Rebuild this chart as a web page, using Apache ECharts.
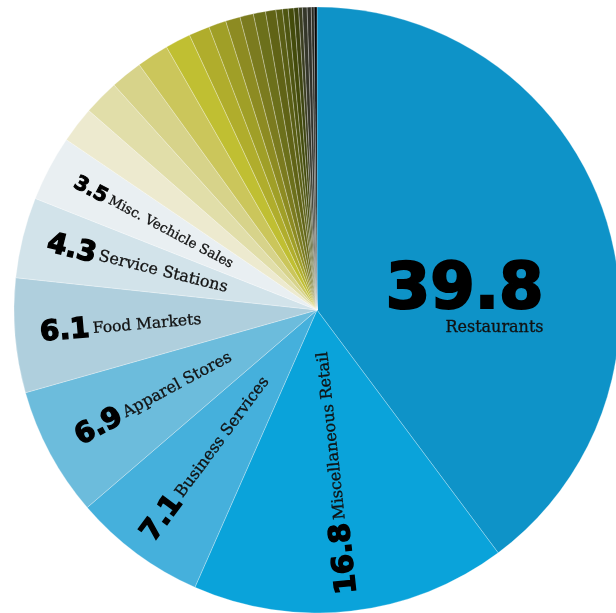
<!DOCTYPE html>
<html><head><meta charset="utf-8">
<script src="https://cdn.jsdelivr.net/npm/echarts@6/dist/echarts.min.js"></script>
<style>html,body{margin:0;padding:0;background:#fff;overflow:hidden}#c{width:616px;height:613px}</style>
</head><body><div id="c"></div>
<script>
// ---- data ----
const categories = [
  'Restaurants', 'Miscellaneous Retail', 'Business Services', 'Apparel Stores',
  'Food Markets', 'Service Stations', 'Misc. Vechicle Sales',
  'Other 1', 'Other 2', 'Other 3', 'Other 4', 'Other 5', 'Other 6', 'Other 7',
  'Other 8', 'Other 9', 'Other 10', 'Other 11', 'Other 12', 'Other 13', 'Other 14',
  'Other 15', 'Other 16', 'Other 17', 'Other 18', 'Other 19', 'Other 20'
];
const values = [
  39.8, 16.8, 7.1, 6.9, 6.1, 4.3, 3.5,
  1.93, 1.89, 1.70, 1.71, 1.36, 1.11, 0.93, 0.78, 0.72, 0.65,
  0.55, 0.35, 0.30, 0.30, 0.25, 0.20, 0.25, 0.22, 0.15, 0.15
];

// ---- styles ----
const colors = [
  '#0e93c8', '#0aa3da', '#45b0dc', '#6cbcdc', '#afcfdd', '#d2e3ea', '#e9eff2',
  '#edeacf', '#e1dea9', '#d7d38a', '#cbc65b', '#c0bf32', '#b0ad2c', '#a09f27',
  '#8d8b22', '#7b7b1f', '#6c701b', '#606316', '#595e14', '#4e5511', '#434b0b',
  '#3d4410', '#3a3d20', '#35372a', '#31322a', '#2a2b23', '#060606'
];
const numFont = '"DejaVu Sans", sans-serif';
const nameFont = '"DejaVu Serif", serif';
const labelCfg = {
  'Restaurants':          { rotate: 0,        n: 64, t: 16,   sw: 2.2, stack: true, padding: [98, 56, 0, 0] },
  'Miscellaneous Retail': { rotate: 96,       n: 29, t: 16,   sw: 1.4, padding: [0, 0, 0, 42] },
  'Business Services':    { rotate: 'radial', n: 28, t: 16,   sw: 1.4, padding: [0, 0, 0, 0] },
  'Apparel Stores':       { rotate: 'radial', n: 28, t: 16,   sw: 1.4, padding: [0, 0, 0, 0] },
  'Food Markets':         { rotate: 'radial', n: 28, t: 15.5, sw: 1.4, padding: [0, 24, 0, 0] },
  'Service Stations':     { rotate: 'radial', n: 28, t: 16,   sw: 1.4, padding: [0, 0, 0, 0] },
  'Misc. Vechicle Sales': { rotate: 'radial', n: 20, t: 13.5, sw: 1.0, padding: [0, 0, 0, 0] }
};

const CENTER = [317, 310];
const R = 303;

const sliceData = categories.map((name, i) => ({
  name, value: values[i], itemStyle: { color: colors[i] }
}));

const labelData = categories.map((name, i) => {
  const cfg = labelCfg[name];
  if (!cfg) return { name, value: values[i], label: { show: false } };
  return {
    name, value: values[i],
    label: {
      show: true,
      position: 'inside',
      rotate: cfg.rotate,
      padding: cfg.padding,
      formatter: p => cfg.stack
        ? '{n|' + p.value.toFixed(1) + '}\n{t|' + p.name + '}'
        : '{n|' + p.value.toFixed(1) + '} {t|' + p.name + '}',
      rich: {
        n: { fontFamily: numFont, fontWeight: 900, fontSize: cfg.n, color: '#000',
             textBorderColor: '#000', textBorderWidth: cfg.sw,
             lineHeight: cfg.stack ? cfg.n * 0.85 : cfg.n * 0.8, verticalAlign: 'middle' },
        t: { fontFamily: nameFont, fontSize: cfg.t, color: '#111',
             textBorderColor: '#111', textBorderWidth: 0.3,
             lineHeight: cfg.t * 1.2, align: cfg.stack ? 'right' : 'left', verticalAlign: 'middle' }
      }
    }
  };
});

const chart = echarts.init(document.getElementById('c'), null, { renderer: 'canvas' });
chart.setOption({
  animation: false,
  backgroundColor: '#fff',
  series: [
    {
      type: 'pie', center: CENTER, radius: [0, R], startAngle: 90, clockwise: true,
      silent: true, label: { show: false }, labelLine: { show: false },
      itemStyle: { borderColor: 'rgba(255,255,255,0.45)', borderWidth: 0.6 },
      data: sliceData
    },
    {
      type: 'pie', center: CENTER, radius: [61, R], startAngle: 90, clockwise: true,
      silent: true, avoidLabelOverlap: false, labelLine: { show: false }, z: 5,
      labelLayout: { hideOverlap: false },
      itemStyle: { color: 'rgba(0,0,0,0)', borderWidth: 0 },
      data: labelData
    }
  ]
});
</script>
</body></html>
